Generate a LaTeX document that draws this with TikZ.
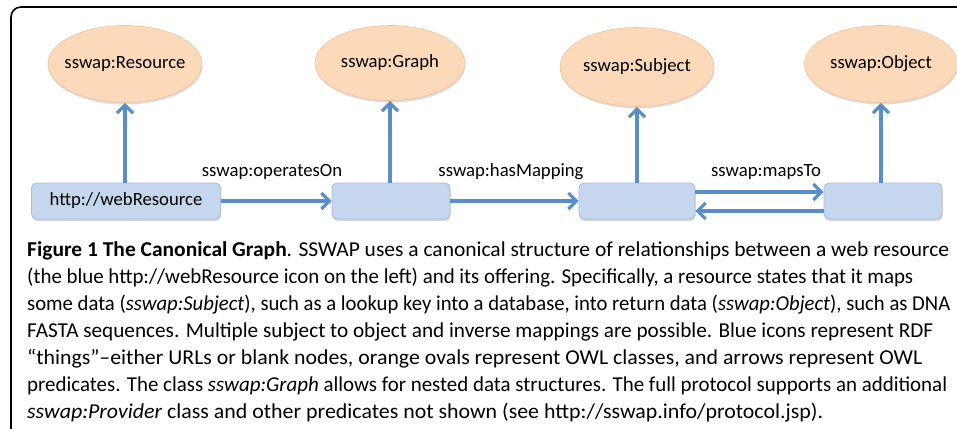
\documentclass[tikz,border=0pt]{standalone}
\usepackage{fontspec}
\usepackage{graphicx}
\setmainfont{Carlito}
\usetikzlibrary{arrows.meta,shapes.geometric,shadows}

\definecolor{linkblue}{HTML}{5A8ECB}
\definecolor{thingfill}{HTML}{C4D7EE}
\definecolor{thingline}{HTML}{A2BEE0}
\definecolor{classfill}{HTML}{FCD9B8}
\definecolor{classline}{HTML}{F2C39B}

% one caption line, set to a given width
\newcommand{\capfit}[2]{\resizebox{#1}{\height}{#2}}

\tikzset{
  thing/.style={draw=thingline, fill=thingfill, line width=0.8pt,
    rounded corners=5pt, minimum height=36pt, inner sep=0pt,
    font=\fontsize{18.7}{20}\selectfont,
    drop shadow={shadow xshift=0.5pt, shadow yshift=-2pt, fill=black!45, opacity=0.35}},
  owlclass/.style={ellipse, draw=classline, fill=classfill, line width=0.6pt,
    minimum width=153pt, minimum height=77pt, inner xsep=-12pt, inner ysep=0pt,
    font=\fontsize{18.7}{20}\selectfont,
    drop shadow={shadow xshift=0.5pt, shadow yshift=-2pt, fill=black!45, opacity=0.3}},
  predicate/.style={draw=linkblue, line width=3.6pt,
    -{Straight Barb[length=8pt,width=16pt,line width=3.2pt]}},
  predlabel/.style={font=\fontsize{18.7}{20}\selectfont, anchor=base},
  capline/.style={anchor=base west, inner sep=0pt,
    font=\fontsize{21.2}{27}\selectfont}
}

\begin{document}
\begin{tikzpicture}[x=1pt,y=-1pt]
  \useasboundingbox (0,0) rectangle (957,428);
  \begin{scope}
    \clip (0,0) rectangle (957,428);
    \draw[line width=1.6pt, rounded corners=10pt] (11,7) rectangle (990,460);
  \end{scope}

  % OWL classes
  \node[owlclass, minimum width=154pt] (res) at (125,64) {sswap:Resource};
  \node[owlclass, minimum width=150pt, minimum height=75pt] (graph) at (390,63) {sswap:Graph};
  \node[owlclass, minimum width=154pt, minimum height=79pt] (subj) at (637,67) {sswap:Subject};
  \node[owlclass] (obj) at (881,64) {sswap:Object};

  % RDF things
  \node[thing, minimum width=189pt] (web) at (126,201) {http://webResource};
  \node[thing, minimum width=118pt] (g) at (391,201) {};
  \node[thing, minimum width=116pt] (s) at (637,201) {};
  \node[thing, minimum width=118pt] (o) at (883,201) {};

  % links up to the classes
  \draw[predicate] (web.north -| res.south) -- (res.south);
  \draw[predicate] (g.north -| graph.south) -- (graph.south);
  \draw[predicate] (s.north -| subj.south) -- (subj.south);
  \draw[predicate] (o.north -| obj.south) -- (obj.south);

  % predicates between things
  \draw[predicate] (web.east) -- (g.west);
  \draw[predicate] (g.east) -- (s.west);
  \coordinate (sUp) at ([yshift=9pt]s.east);
  \coordinate (sDn) at ([yshift=-10pt]s.east);
  \draw[predicate] (sUp) -- (sUp -| o.west);
  \draw[predicate] (sDn -| o.west) -- (sDn);

  \node[predlabel] (lop) at (272,176) {sswap:operatesOn};
  \node[predlabel] (lhm) at (511,176) {sswap:hasMapping};
  \node[predlabel] (lmt) at (766,176) {sswap:mapsTo};

  % caption, one node per printed line
  \node[capline] (cap1) at (27,256) {\capfit{922pt}{\textbf{Figure 1 The Canonical Graph}. SSWAP uses a canonical structure of relationships between a web resource}};
  \node[capline] (cap2) at (27,283) {\capfit{886pt}{(the blue http://webResource icon on the left) and its offering. Specifically, a resource states that it maps}};
  \node[capline] (cap3) at (27,310) {\capfit{923pt}{some data (\textit{sswap:Subject}), such as a lookup key into a database, into return data (\textit{sswap:Object}), such as DNA}};
  \node[capline] (cap4) at (27,337) {\capfit{906pt}{FASTA sequences. Multiple subject to object and inverse mappings are possible. Blue icons represent RDF}};
  \node[capline] (cap5) at (27,364) {\capfit{895pt}{“things”–either URLs or blank nodes, orange ovals represent OWL classes, and arrows represent OWL}};
  \node[capline] (cap6) at (27,391) {\capfit{920pt}{predicates. The class \textit{sswap:Graph} allows for nested data structures. The full protocol supports an additional}};
  \node[capline] (cap7) at (27,418) {\capfit{796pt}{\textit{sswap:Provider} class and other predicates not shown (see http://sswap.info/protocol.jsp).}};
\end{tikzpicture}
\end{document}
